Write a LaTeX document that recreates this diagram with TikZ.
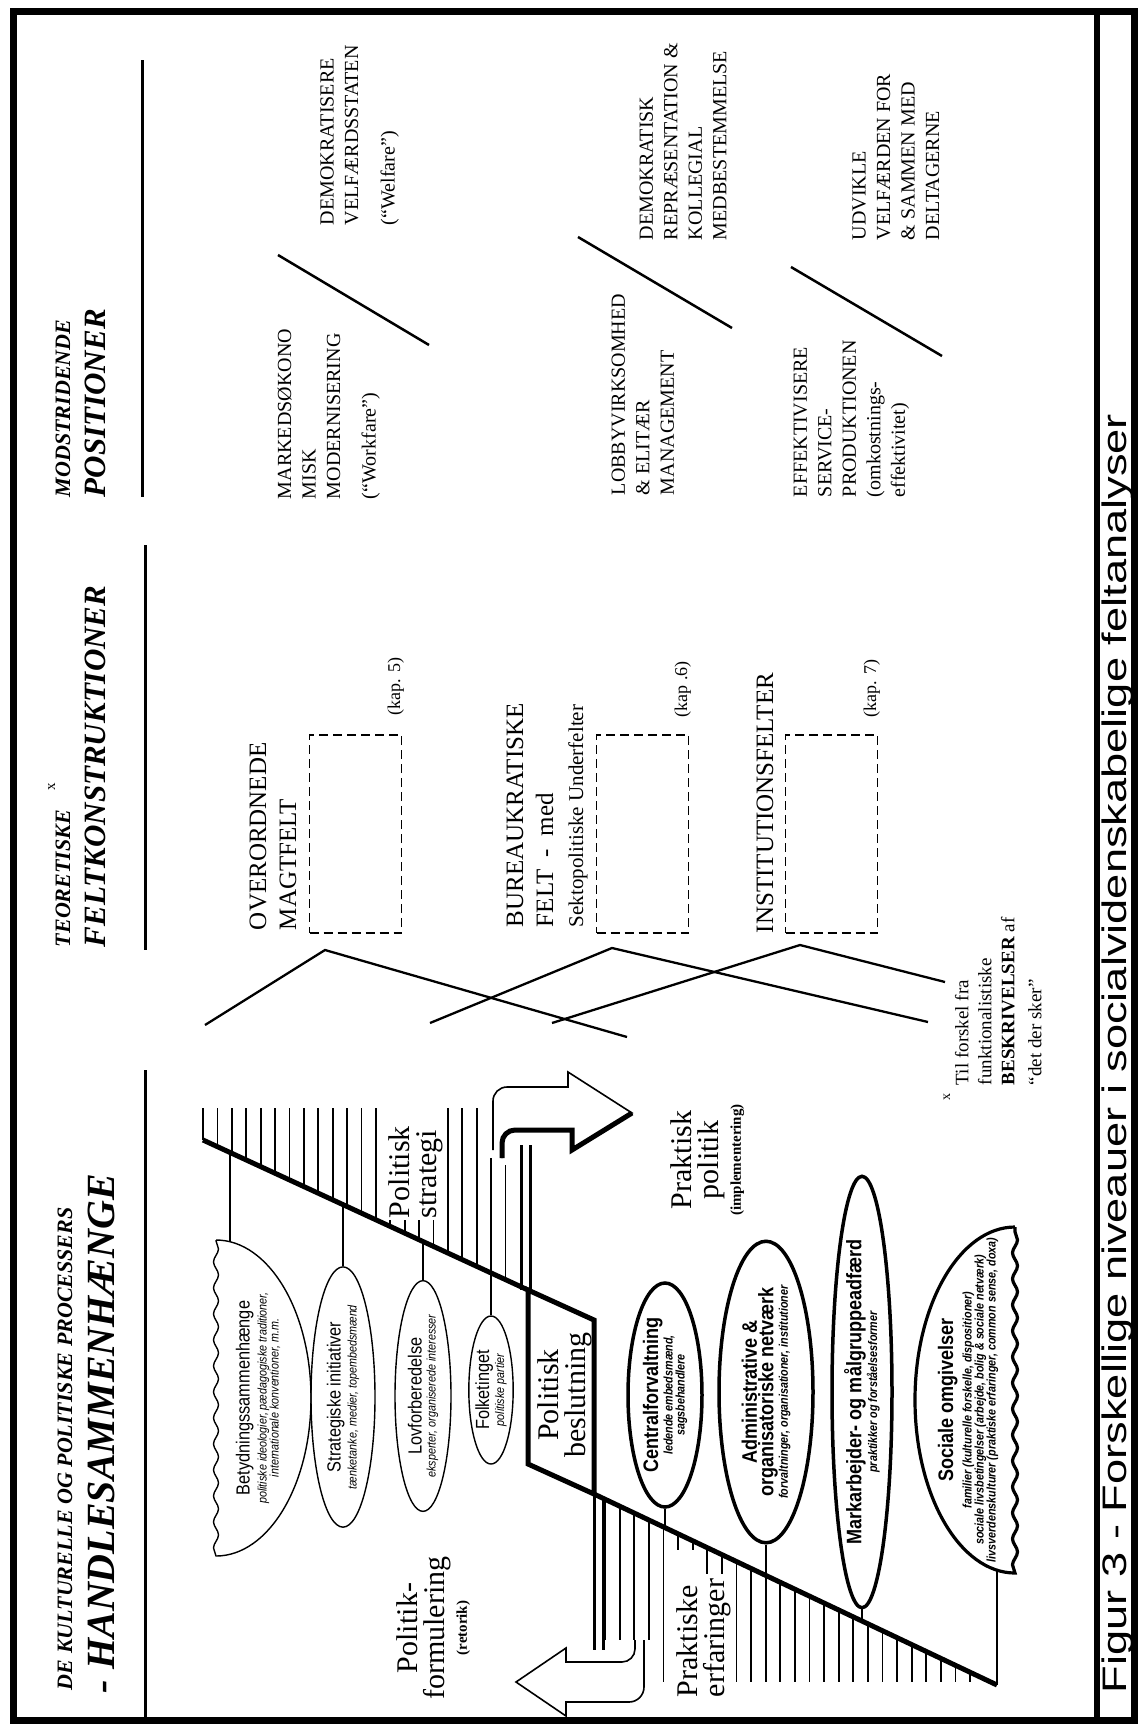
\documentclass[tikz,border=0pt]{standalone}
\usepackage{fontspec}
\usepackage{graphicx}
\setmainfont{Liberation Serif}
\newfontfamily\ellfont[FakeStretch=0.86]{Liberation Sans}
\newfontfamily\capfont{Liberation Sans}
\usetikzlibrary{shapes.geometric,decorations.pathmorphing}

\newcommand{\fsz}[2]{\fontsize{#1}{#2}\selectfont}
% texts inside the ellipses
\newcommand{\ttlup}{\ellfont\fsz{19}{21}}
\newcommand{\subup}{\ellfont\itshape\fsz{12.5}{14.5}}
\newcommand{\ttldn}{\ellfont\bfseries\fsz{21}{23}}
\newcommand{\subdn}{\ellfont\bfseries\itshape\fsz{12.5}{14.5}}

\tikzset{
  rot/.style={rotate=90, inner sep=0pt, outer sep=0pt},
  hdsmall/.style={rot, anchor=base west, font=\fsz{22}{26}\bfseries\itshape},
  hdbig/.style={rot, anchor=base west, font=\fsz{31}{36}\bfseries\itshape},
  colrule/.style={line width=3pt},
  posn/.style={rot, anchor=north west, align=left, font=\fsz{20}{24.5}},
  fieldlbl/.style={rot, anchor=north west, align=left, font=\fsz{25}{30}},
  kap/.style={rot, anchor=base west, font=\fsz{18}{20}},
  fieldbox/.style={draw, dash pattern=on 9pt off 5pt, line width=1.8pt,
    minimum width=92pt, minimum height=198pt, inner sep=0pt},
  crossline/.style={line width=2.3pt},
  slash/.style={line width=2.5pt},
  flow/.style={rot, font=\fsz{30}{26.5}},
  hatch/.style={line width=1.8pt},
  diag/.style={line width=5pt},
  pipe/.style={line width=3pt},
  ellup/.style={ellipse, draw, line width=1.4pt, rotate=90, inner sep=0pt, align=center},
  elldn/.style={ellipse, draw, line width=3.5pt, rotate=90, inner sep=0pt, align=center},
  elltxt/.style={rot, align=center},
  stemup/.style={line width=1.4pt},
  stemdn/.style={line width=2.8pt},
  wavy/.style={decoration={snake, amplitude=2.5pt, segment length=26pt}},
}

\begin{document}
\begin{tikzpicture}[x=1pt, y=-1pt]
\useasboundingbox (0,0) rectangle (1138,1727);

% frame and caption strip
\draw[line width=7pt] (13,11) rectangle (1134,1720);
\draw[line width=6pt] (1097,11) -- (1097,1720);
\node[rot, anchor=base west, font=\capfont\fsz{34}{38}] (cap) at (1126,1693)
  {\scalebox{1.33}[1]{Figur 3 - Forskellige niveauer i socialvidenskabelige feltanalyser}};

% ---------- column 3: opposing positions ----------
\node[hdsmall] (h3a) at (70,497) {MODSTRIDENDE};
\node[hdbig] (h3b) at (105,497) {POSITIONER};
\draw[colrule] (142,60) -- (142,497);

\node[posn] (posA1) at (277.5,499) {MARKEDSØKONO\\MISK\\MODERNISERING\\[11pt](“Workfare”)};
\node[posn] (posA2) at (320.5,225) {DEMOKRATISERE\\VELFÆRDSSTATEN\\[12pt](“Welfare”)};
\coordinate (sl1a) at (278,255);
\coordinate (sl1b) at (429,345);
\draw[slash] (sl1a) -- (sl1b);

\node[posn] (posB1) at (611.5,495) {LOBBYVIRKSOMHED\\\& ELITÆR\\MANAGEMENT};
\node[posn] (posB2) at (639.5,240) {DEMOKRATISK\\REPRÆSENTATION \&\\KOLLEGIAL\\MEDBESTEMMELSE};
\coordinate (sl2a) at (578,237);
\coordinate (sl2b) at (732,328);
\draw[slash] (sl2a) -- (sl2b);

\node[posn] (posC1) at (793.5,497) {EFFEKTIVISERE\\SERVICE-\\PRODUKTIONEN\\(omkostnings-\\effektivitet)};
\node[posn] (posC2) at (852.5,240) {UDVIKLE\\VELFÆRDEN FOR\\\& SAMMEN MED\\DELTAGERNE};
\coordinate (sl3a) at (791,267);
\coordinate (sl3b) at (942,356);
\draw[slash] (sl3a) -- (sl3b);

% ---------- column 2: theoretical field constructions ----------
\node[hdsmall] (h2a) at (70,947) {TEORETISKE};
\node[rot, anchor=base west, font=\fsz{15}{16}] (h2x) at (55,790) {x};
\node[hdbig] (h2b) at (105,947) {FELTKONSTRUKTIONER};
\draw[colrule] (145,545) -- (145,950);

\node[fieldlbl] (fld1) at (249.5,930) {OVERORDNEDE\\MAGTFELT};
\node[fieldbox] (box1) at (355.5,834) {};
\node[kap] (kap1) at (400,715) {(kap. 5)};

\node[fieldlbl] (fld2) at (506.5,927) {BUREAUKRATISKE\\FELT\ \ -\ \ med\\{\fsz{21}{26}Sektopolitiske Underfelter}};
\node[fieldbox] (box2) at (642.5,834) {};
\node[kap] (kap2) at (687,717) {(kap .6)};

\node[fieldlbl] (fld3) at (756.5,933) {INSTITUTIONSFELTER};
\node[fieldbox] (box3) at (831.5,834) {};
\node[kap] (kap3) at (876,717) {(kap. 7)};

% crossing lines below the fields
\coordinate (la1) at (205,1025); \coordinate (ta1) at (325,950); \coordinate (ra1) at (627,1037);
\coordinate (la2) at (430,1023); \coordinate (ta2) at (612,948); \coordinate (ra2) at (928,1022);
\coordinate (la3) at (552,1023); \coordinate (ta3) at (800,945); \coordinate (ra3) at (945,982);
\draw[crossline] (la1) -- (ta1) -- (ra1);
\draw[crossline] (la2) -- (ta2) -- (ra2);
\draw[crossline] (la3) -- (ta3) -- (ra3);

% footnote
\node[rot, anchor=base west, font=\fsz{14}{16}] (fnx) at (950,1100) {x};
\node[rot, anchor=north west, align=left, font=\fsz{19}{23}] (fn) at (955,1085)
  {Til forskel fra\\funktionalistiske\\\textbf{BESKRIVELSER} af\\[4pt]“det der sker”};

% ---------- column 1: cultural and political processes ----------
\node[rot, anchor=base west, font=\fsz{22}{26}\bfseries\itshape] (h1a) at (72,1690) {DE KULTURELLE OG POLITISKE PROCESSERS};
\node[rot, anchor=base west, font=\fsz{40}{44}\bfseries\itshape] (h1b) at (114,1693) {- HANDLESAMMENHÆNGE};
\draw[colrule] (145,1070) -- (145,1720);

% diagonals and decision box
\coordinate (ud0) at (203,1140);
\coordinate (bxa) at (528,1290);
\coordinate (bxb) at (594,1320);
\coordinate (bxc) at (594,1494);
\coordinate (bxd) at (528,1464);
\coordinate (ldE) at (997,1685);

% hatching: political strategy
\foreach \x in {203,217.4,...,477}{
  \pgfmathsetmacro\yd{1140+0.4615*(\x-203)}
  \pgfmathsetmacro\ys{1108+112*and(\x>385,\x<442)}
  \draw[hatch] (\x,\ys) -- (\x,\yd);
}
\draw[hatch] (491,1158) -- (491,1273);
\draw[hatch] (505.4,1165) -- (505.4,1279.5);

% hatching: practical experiences
\foreach \x in {605,619.6,...,985}{
  \pgfmathsetmacro\yd{1494+0.474*(\x-594)}
  \pgfmathsetmacro\ye{1682-42*(\x<655)-132*and(\x>674,\x<701)-108*and(\x>=701,\x<727)}
  \draw[hatch] (\x,\yd) -- (\x,\ye);
}

\draw[diag] (ud0) -- (bxa);
\draw[diag, line join=miter] (bxa) -- (bxb) -- (bxc) -- (bxd) -- cycle;
\draw[diag] (bxc) -- (ldE);

% pipes through the decision box
\draw[pipe] (521,1145) -- (521,1290);
\draw[pipe] (530,1145) -- (530,1290);
\draw[pipe] (594,1494) -- (594,1650);
\draw[pipe] (603,1498) -- (603,1650);

% bent arrow towards practical politics
\draw[line width=1.6pt, line join=miter] (493,1150) -- (493,1101) arc[start angle=180, end angle=90, radius=14pt]
  -- (568,1087) -- (568,1072) -- (632,1113) -- (572,1150) -- (572,1130)
  -- (515,1130) arc[start angle=90, end angle=180, radius=13pt] -- (502,1158);
\draw[line width=5pt, line join=miter] (502,1158) -- (502,1143) arc[start angle=180, end angle=90, radius=13pt]
  -- (572,1130) -- (572,1150) -- (632,1113);

% bent arrow towards policy formulation
\draw[line width=1.6pt, line join=miter] (635,1640) -- (635,1649) arc[start angle=0, end angle=-90, radius=13pt]
  -- (566,1662) -- (566,1648) -- (516,1682) -- (566,1716) -- (566,1702)
  -- (629,1702) arc[start angle=-90, end angle=0, radius=15pt] -- (644,1640);

% flow labels
\node[flow, anchor=north west, align=left] (strat) at (389,1218) {Politisk\\strategi};
\node[flow, anchor=north, align=center] (prpol) at (671,1160)
  {Praktisk\\politik\\[-4pt]{\fsz{15}{16}\bfseries (implementering)}};
\node[flow, anchor=north, align=center] (besl) at (538,1395) {Politisk\\beslutning};
\node[flow, anchor=north, align=center] (polf) at (397,1628)
  {Politik-\\formulering\\[-4pt]{\fsz{15}{16}\bfseries (retorik)}};
\node[flow, anchor=north west, align=left] (prerf) at (677,1697) {Praktiske\\erfaringer};

% upper ellipses
\draw[line width=1.4pt] (216,1240) arc[start angle=90, end angle=-90, x radius=95pt, y radius=158pt]
  decorate[wavy] {-- (216,1240)};
\coordinate (bettop) at (230,1242);
\node[elltxt] (bet) at (258,1398) {\ttlup Betydningssammenhænge\\[3pt]
  \subup politiske ideologier, pædagogiske traditioner,\\ \subup internationale konventioner, m.m.};
\node[ellup, minimum width=254pt, minimum height=64pt] (strini) at (343,1397)
  {\ttlup Strategiske initiativer\\[2pt] \subup tænketanke, medier, topembedsmænd};
\node[ellup, minimum width=214pt, minimum height=56pt] (lov) at (423,1396)
  {\ttlup Lovforberedelse\\[2pt] \subup eksperter, organiserede interesser};
\node[ellup, minimum width=148pt, minimum height=40pt] (folk) at (491,1390)
  {\ttlup Folketinget\\[1pt] \subup politiske partier};

\coordinate (sd1) at (230,1152.5);
\coordinate (sd2) at (343,1204.6);
\coordinate (sd3) at (423,1241.5);
\coordinate (sd4) at (491,1272.9);
\draw[stemup] (sd1) -- (bettop);
\draw[stemup] (sd2) -- (strini.east);
\draw[stemup] (sd3) -- (lov.east);
\draw[stemup] (sd4) -- (folk.east);

% lower ellipses
\node[elldn, minimum width=224pt, minimum height=74pt] (cen) at (665,1395)
  {\ttldn Centralforvaltning\\ \subdn ledende embedsmænd,\\ \subdn sagsbehandlere};
\node[elldn, minimum width=300pt, minimum height=94pt] (adm) at (766,1392)
  {\ttldn Administrative \&\\ \ttldn organisatoriske netværk\\ \subdn forvaltninger, organisationer, institutioner};
\node[elldn, minimum width=372pt, minimum height=60pt] (mkt) at (862,1392)
  {\ttldn Markarbejder- og målgruppeadfærd\\ \subdn praktikker og forståelsesformer};
\draw[line width=3.2pt] (1015,1227) arc[start angle=90, end angle=270, x radius=100pt, y radius=173pt]
  decorate[wavy] {-- (1015,1227)};
\coordinate (socbot) at (997,1570);
\node[elltxt] (soc) at (968,1400) {\ttldn Sociale omgivelser\\[4pt]
  \subdn familier (kulturelle forskelle, dispositioner)\\
  \subdn sociale livsbetingelser (arbejde, bolig \& sociale netværk)\\
  \subdn livsverdenskulturer (praktiske erfaringer, common sense, doxa)};

\coordinate (ld1) at (665,1527.6);
\coordinate (ld2) at (766,1575.5);
\coordinate (ld3) at (862,1621);
\draw[stemdn] (cen.west) -- (ld1);
\draw[stemdn] (adm.west) -- (ld2);
\draw[stemdn] (mkt.west) -- (ld3);
\draw[stemdn] (socbot) -- (ldE);
\end{tikzpicture}
\end{document}
